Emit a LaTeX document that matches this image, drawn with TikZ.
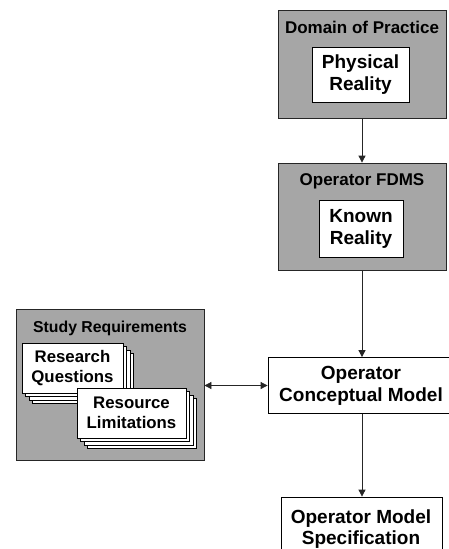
\documentclass[tikz,border=0pt]{standalone}
\usepackage{fontspec}
\setmainfont{Liberation Sans}
\usetikzlibrary{arrows.meta}
\begin{document}
\begin{tikzpicture}[x=1pt,y=-1pt,
  graybox/.style={draw=black!85, line width=0.8pt, fill=black!35, inner sep=0pt},
  whitebox/.style={draw=black, line width=0.8pt, fill=white, inner sep=0pt, align=center, font=\fontsize{19}{22}\selectfont\bfseries},
  card/.style={draw=black, line width=0.7pt, fill=white, inner sep=0pt, align=center, font=\fontsize{16.8}{20}\selectfont\bfseries},
  ttl/.style={inner sep=0pt, font=\fontsize{17}{20}\selectfont\bfseries},
  conn/.style={draw=black!85, line width=0.8pt, -{Triangle[length=7pt,width=7pt]}},
  conn2/.style={draw=black!85, line width=0.8pt, {Triangle[length=7pt,width=7pt]}-{Triangle[length=7pt,width=7pt]}}
]
\useasboundingbox (0,0) rectangle (449,549);
\clip (0,0) rectangle (449,549);
\fill[white] (0,0) rectangle (449,549);

% Domain of Practice
\node[graybox, minimum width=168pt, minimum height=108pt] (dom) at (362,64) {};
\node[ttl] (domt) at (362,27) {Domain of Practice};
\node[whitebox, minimum width=97pt, minimum height=55pt] (phys) at (360.5,74.5) {Physical\\Reality};

% Operator FDMS
\node[graybox, minimum width=168pt, minimum height=107pt] (fdms) at (362,216.5) {};
\node[ttl] (fdmst) at (362,181) {Operator FDMS};
\node[whitebox, minimum width=84pt, minimum height=57pt] (known) at (361,228.5) {Known\\Reality};

% Operator Conceptual Model
\node[whitebox, minimum width=186pt, minimum height=56pt] (ocm) at (361,385.5) {Operator\\Conceptual Model};

% Operator Model Specification
\node[whitebox, minimum width=161pt, minimum height=60pt, text depth=0pt] (oms) at (361.5,527) {};
\node[inner sep=0pt, align=center, font=\fontsize{19}{21}\selectfont\bfseries] (omst) at (361,529) {Operator Model\\Specification};

% Study Requirements
\node[graybox, minimum width=188pt, minimum height=151pt] (study) at (110,384.5) {};
\node[ttl, font=\fontsize{15.8}{19}\selectfont\bfseries] (studyt) at (110,328) {Study Requirements};

% Research Questions stack
\node[card, minimum width=101pt, minimum height=50pt] (rq3) at (83,378.5) {};
\node[card, minimum width=101pt, minimum height=50pt] (rq2) at (79.5,375) {};
\node[card, minimum width=101pt, minimum height=50pt] (rq1) at (76,371.5) {};
\node[card, minimum width=101pt, minimum height=50pt] (rq) at (72.5,368) {Research\\Questions};

% Resource Limitations stack
\node[card, minimum width=109pt, minimum height=50pt] (rl3) at (142,423.5) {};
\node[card, minimum width=109pt, minimum height=50pt] (rl2) at (138.5,420) {};
\node[card, minimum width=109pt, minimum height=50pt] (rl1) at (135,416.5) {};
\node[card, minimum width=109pt, minimum height=50pt] (rl) at (131.5,413) {Resource\\Limitations};

% connectors
\draw[conn] (dom.south) -- (fdms.north);
\draw[conn] (fdms.south) -- (fdms.south |- ocm.north);
\draw[conn] (ocm.south -| fdms.south) -- (fdms.south |- oms.north);
\draw[conn2] (study.east |- ocm.west) -- (ocm.west);
\end{tikzpicture}
\end{document}
